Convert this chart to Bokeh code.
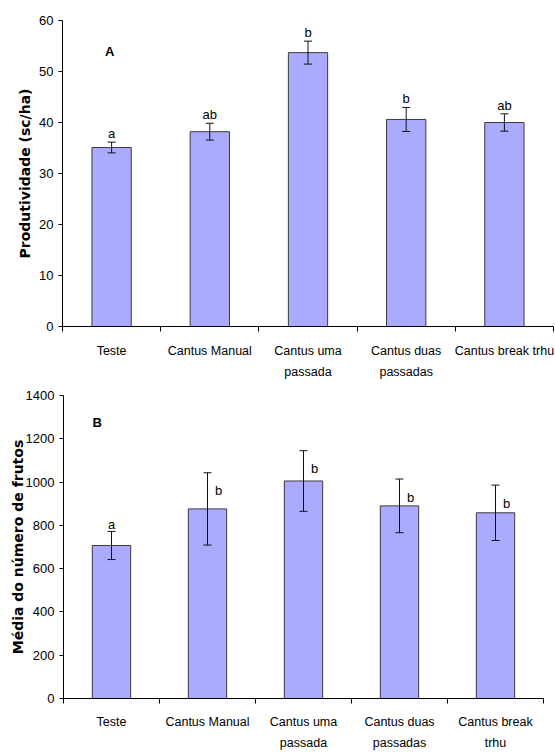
from bokeh.plotting import figure
from bokeh.models import (Range1d, LinearAxis, FixedTicker, Whisker,
                          TeeHead, ColumnDataSource, Label)
from bokeh.core.properties import value
from bokeh.embed import file_html
from bokeh.resources import INLINE

# ---------------- data ----------------
categories = ["Teste", "Cantus Manual", "Cantus uma passada", "Cantus duas passadas", "Cantus break trhu"]
labels_a = ["Teste", "Cantus Manual", "Cantus uma\npassada", "Cantus duas\npassadas", "Cantus break trhu"]
labels_b = ["Teste", "Cantus Manual", "Cantus uma\npassada", "Cantus duas\npassadas", "Cantus break\ntrhu"]

prod_mean = [35.1, 38.2, 53.7, 40.6, 40.0]
prod_err = [1.05, 1.65, 2.25, 2.35, 1.7]
prod_letters = ["a", "ab", "b", "b", "ab"]
prod_ticks = [0, 10, 20, 30, 40, 50, 60]

frutos_mean = [707, 876, 1005, 890, 858]
frutos_err = [65, 167, 140, 124, 128]
frutos_letters = ["a", "b", "b", "b", "b"]
frutos_ticks = [0, 200, 400, 600, 800, 1000, 1200, 1400]

FONT = "Liberation Sans"
BAR = "#AAAAFF"

n = len(categories)
centers = [i + 0.5 for i in range(n)]      # category slot centres on a 0..n axis
bounds = list(range(n + 1))                # category slot boundaries


def make_chart(means, errs, ticks, ylabel, xlabels, width, height, borders,
               standoff, title_standoff):
    top, right, bottom, left = borders
    p = figure(x_range=Range1d(0, n), y_range=Range1d(ticks[0], ticks[-1]),
               width=width, height=height, output_backend="svg", toolbar_location=None,
               x_axis_location=None, min_border_top=top, min_border_right=right,
               min_border_bottom=bottom, min_border_left=left)
    p.outline_line_color = None
    p.grid.visible = False
    p.background_fill_color = "white"
    p.border_fill_color = "white"

    src = ColumnDataSource(dict(x=centers, top=means,
                                upper=[m + e for m, e in zip(means, errs)],
                                lower=[m - e for m, e in zip(means, errs)]))
    p.vbar(x="x", top="top", width=0.4, source=src, fill_color=BAR,
           line_color="#3a3a3a", line_width=1)
    w = Whisker(base="x", upper="upper", lower="lower", source=src, level="overlay",
                line_color="#111111", line_width=1,
                upper_head=TeeHead(size=8, line_color="#111111", line_width=1),
                lower_head=TeeHead(size=8, line_color="#111111", line_width=1))
    p.add_layout(w)

    # y axis
    ya = p.yaxis[0]
    ya.ticker = FixedTicker(ticks=ticks)
    ya.axis_line_color = "black"
    ya.major_tick_line_color = "black"
    ya.major_tick_out = 4
    ya.major_tick_in = 0
    ya.minor_tick_line_color = None
    ya.minor_tick_out = 0
    ya.major_label_standoff = 5
    ya.major_label_text_font = FONT
    ya.major_label_text_font_size = "13px"
    ya.major_label_text_color = "black"
    ya.axis_label = ylabel
    ya.axis_label_text_font = "DejaVu Sans"
    ya.axis_label_text_font_style = "bold"
    ya.axis_label_text_font_size = "14px"
    ya.axis_label_text_color = "black"
    ya.axis_label_standoff = title_standoff

    # boundary tick marks along the bottom axis line
    tick_axis = LinearAxis(ticker=FixedTicker(ticks=bounds),
                           major_label_overrides={b: "" for b in bounds},
                           major_label_text_font_size="0px", major_label_standoff=0,
                           axis_line_color="black", major_tick_line_color="black",
                           major_tick_out=5, major_tick_in=0, minor_tick_line_color=None,
                           minor_tick_out=0)
    p.add_layout(tick_axis, "below")

    label_axis = LinearAxis(ticker=FixedTicker(ticks=centers),
                            axis_line_color=None, major_tick_line_color=None,
                            minor_tick_line_color=None, minor_tick_out=0,
                            major_tick_out=0, major_tick_in=0,
                            major_label_standoff=standoff,
                            major_label_overrides=dict(zip(centers, xlabels)),
                            major_label_text_font=FONT,
                            major_label_text_font_size="12.5px",
                            major_label_text_line_height=1.55,
                            major_label_text_color="black")
    p.add_layout(label_axis, "below")
    return p, src


# ---------------- chart A ----------------
p1, s1 = make_chart(prod_mean, prod_err, prod_ticks, "Produtividade (sc/ha)", labels_a,
                    555, 388, (20, 2, 62, 62), 12, 3)
p1.text(x=centers, y=[m + e for m, e in zip(prod_mean, prod_err)], text=prod_letters,
        text_align="center", text_baseline="bottom", y_offset=-1,
        text_font=value(FONT), text_font_size="13px", text_color="black")
p1.add_layout(Label(x=0.48, y=54, text="A", text_align="center", text_baseline="middle",
                    text_font=FONT, text_font_style="bold", text_font_size="13px",
                    text_color="black"))

# ---------------- chart B ----------------
p2, s2 = make_chart(frutos_mean, frutos_err, frutos_ticks, "Média do número de frutos", labels_b,
                    555, 365, (7, 12, 53, 63), 11, -3)
upper_b = [m + e for m, e in zip(frutos_mean, frutos_err)]
p2.text(x=centers[:1], y=upper_b[:1], text=frutos_letters[:1],
        text_align="center", text_baseline="bottom", y_offset=1,
        text_font=value(FONT), text_font_size="13px", text_color="black")
p2.text(x=centers[1:], y=upper_b[1:], text=frutos_letters[1:],
        text_align="center", text_baseline="middle", x_offset=11, y_offset=18,
        text_font=value(FONT), text_font_size="13px", text_color="black")
p2.add_layout(Label(x=0.35, y=1276, text="B", text_align="center", text_baseline="middle",
                    text_font=FONT, text_font_style="bold", text_font_size="13px",
                    text_color="black"))

open("out.html", "w").write(file_html([p1, p2], INLINE))
